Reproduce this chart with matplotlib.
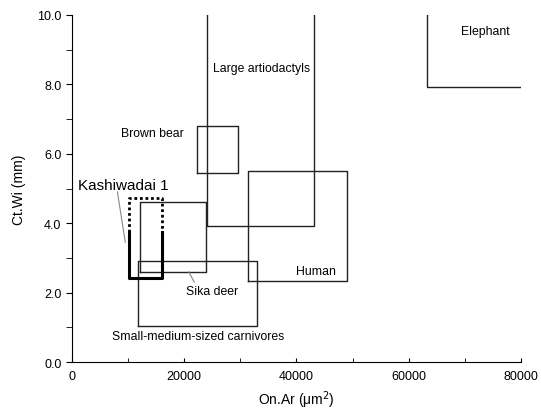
import matplotlib
matplotlib.use("Agg")
import matplotlib.pyplot as plt

plt.rcParams['font.family'] = ['Liberation Sans', 'DejaVu Sans']

# Ranges: (name, x_min, x_max, y_min, y_max)
groups = ["Large artiodactyls", "Brown bear", "Human", "Sika deer", "Small-medium-sized carnivores"]
x_min = [24000, 22300, 31400, 12100, 11800]
x_max = [43100, 29500, 49000, 23900, 33000]
y_min = [3.92, 5.45, 2.33, 2.60, 1.05]
y_max = [10.0, 6.80, 5.50, 4.62, 2.90]
open_top = [True, False, False, False, False]

# Elephant: open range (x >= 63300, y >= 7.92)
eleph_x = [63300, 80000]
eleph_y = [7.92, 10.0]

# Kashiwadai 1
kash_x = [10200, 16100]
kash_y_low = 2.43
kash_y_solid = 3.75
kash_y_dot = 4.72

label_pos = {
    "Large artiodactyls": (33800, 8.47),
    "Elephant": (73600, 9.54),
    "Brown bear": (14300, 6.60),
    "Human": (43500, 2.62),
    "Sika deer": (24900, 2.05),
    "Small-medium-sized carnivores": (22400, 0.75),
}

fig = plt.figure(figsize=(5.41, 4.10), dpi=100)
ax = fig.add_axes([0.133, 0.1146, 0.830, 0.8464])

lw = 1.0
for i, g in enumerate(groups):
    x0, x1, y0, y1 = x_min[i], x_max[i], y_min[i], y_max[i]
    if open_top[i]:
        ax.plot([x0, x0, x1, x1], [y1, y0, y0, y1], color='#222222', lw=lw)
    else:
        ax.plot([x0, x1, x1, x0, x0], [y0, y0, y1, y1, y0], color='#222222', lw=lw)

ax.plot([eleph_x[0], eleph_x[0], eleph_x[1]], [eleph_y[1], eleph_y[0], eleph_y[0]],
        color='#222222', lw=lw)

# Kashiwadai 1 thick U and dotted extension
ax.plot([kash_x[0], kash_x[0], kash_x[1], kash_x[1]],
        [kash_y_solid, kash_y_low, kash_y_low, kash_y_solid], color='black', lw=2.2)
ax.plot([kash_x[0], kash_x[0], kash_x[1], kash_x[1]],
        [kash_y_solid, kash_y_dot, kash_y_dot, kash_y_solid], color='black', lw=2.0,
        linestyle=(0, (1, 1)))

fs = 8.8
for name, (x, y) in label_pos.items():
    ax.text(x, y, name, ha='center', va='center', fontsize=fs)

ax.text(1100, 5.10, "Kashiwadai 1", ha='left', va='center', fontsize=11)
# leader lines
ax.plot([8100, 9500], [4.90, 3.45], color='#888888', lw=0.8)
ax.plot([20800, 21800], [2.60, 2.30], color='#888888', lw=0.8)

ax.set_xlim(0, 80000)
ax.set_ylim(0, 10)
ax.set_xticks(range(0, 80001, 20000))
ax.set_xticks(range(0, 80001, 10000), minor=True)
ax.set_yticks([0, 2, 4, 6, 8, 10])
ax.set_yticks(range(0, 11), minor=True)
ax.set_yticklabels([f"{v:.1f}" for v in [0, 2, 4, 6, 8, 10]])
ax.tick_params(axis='x', which='both', direction='in', length=3, labelsize=9, pad=6)
ax.tick_params(axis='y', which='both', direction='out', length=4, labelsize=9)
for s in ['top', 'right']:
    ax.spines[s].set_visible(False)
ax.set_xlabel("On.Ar (μm$^2$)", fontsize=10, labelpad=4)
ax.set_ylabel("Ct.Wi (mm)", fontsize=10, labelpad=8)

fig.savefig("out.png", dpi=100)
